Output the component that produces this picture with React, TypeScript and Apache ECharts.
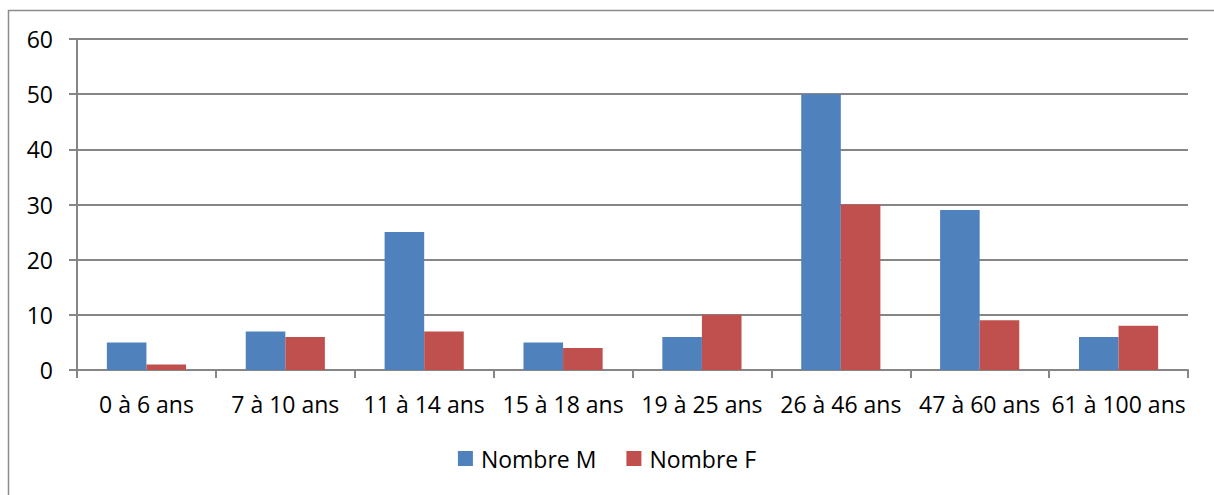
import React, { useEffect, useRef } from "react";
import * as echarts from "echarts";

const categories = ["0 à 6 ans", "7 à 10 ans", "11 à 14 ans", "15 à 18 ans", "19 à 25 ans", "26 à 46 ans", "47 à 60 ans", "61 à 100 ans"];
const nombreM = [5, 7, 25, 5, 6, 50, 29, 6];
const nombreF = [1, 6, 7, 4, 10, 30, 9, 8];
const seriesNames = ["Nombre M", "Nombre F"];

export default function App() {
  const ref = useRef<HTMLDivElement>(null);
  useEffect(() => {
    document.body.style.margin = "0";
    const chart = echarts.init(ref.current!, null, { renderer: "svg" });
    const font = "Open Sans";
    const fs = 23;
    chart.setOption({
      animation: false,
      textStyle: { fontFamily: font },
      graphic: [
        {
          type: "rect",
          shape: { x: 8.5, y: 10.5, width: 1400, height: 700 },
          style: { fill: "none", stroke: "#8c8c8c", lineWidth: 1.5 },
          silent: true,
        },
      ],
      grid: { left: 77, right: 26, top: 39, bottom: 125, containLabel: false },
      legend: {
        bottom: 20,
        left: "center",
        itemWidth: 15,
        itemHeight: 15,
        itemGap: 30,
        icon: "rect",
        textStyle: { fontSize: fs, color: "#000", fontFamily: font, padding: [0, 0, 0, 3] },
        data: seriesNames,
      },
      xAxis: {
        type: "category",
        data: categories,
        axisLine: { lineStyle: { color: "#868686", width: 2 } },
        axisTick: { show: true, length: 8, lineStyle: { color: "#868686", width: 2 } },
        axisLabel: { fontSize: fs, color: "#000", margin: 22, interval: 0, fontFamily: font },
      },
      yAxis: {
        type: "value",
        min: 0,
        max: 60,
        interval: 10,
        axisLine: { show: true, lineStyle: { color: "#868686", width: 2 } },
        axisTick: { show: true, length: 8, lineStyle: { color: "#868686", width: 2 } },
        splitLine: { lineStyle: { color: "#868686", width: 2 } },
        axisLabel: { fontSize: fs, color: "#000", margin: 24, fontFamily: font },
      },
      series: [
        {
          name: seriesNames[0],
          type: "bar",
          data: nombreM,
          itemStyle: { color: "#4F81BD" },
          barGap: "0%",
          barCategoryGap: "43%",
        },
        {
          name: seriesNames[1],
          type: "bar",
          data: nombreF,
          itemStyle: { color: "#C0504D" },
        },
      ],
    });
    return () => chart.dispose();
  }, []);
  return <div ref={ref} style={{ width: 1214, height: 495 }} />;
}
